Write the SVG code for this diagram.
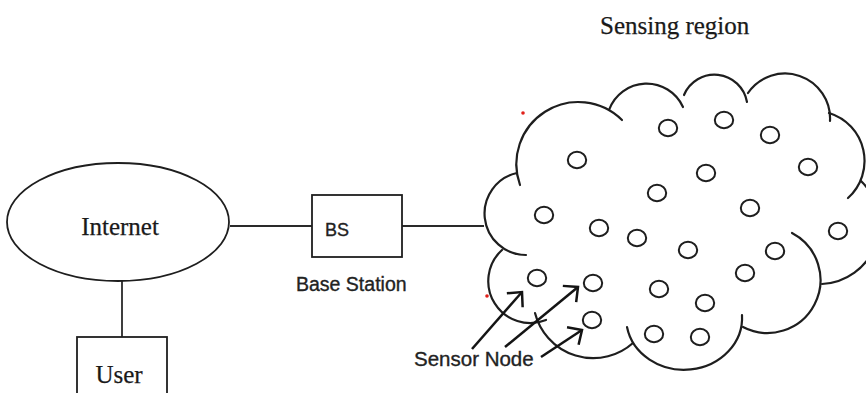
<svg xmlns="http://www.w3.org/2000/svg" width="866" height="393" viewBox="0 0 866 393">
  <defs>
    <style>
      .bg { fill: #ffffff; }
      .shape { fill: none; stroke: #1e1e1e; stroke-width: 1.8; }
      .cloud { fill: none; stroke: #1e1e1e; stroke-width: 2.2; stroke-linecap: round; }
      .sensor { fill: none; stroke: #1e1e1e; stroke-width: 2; }
      .link { fill: none; stroke: #2a2a2a; stroke-width: 1.8; }
      .arrow { fill: none; stroke: #141414; stroke-width: 2.5; marker-end: url(#chev); }
      .serif { font-family: "Liberation Serif", "Times New Roman", serif; fill: #1a1a1a; stroke: #1a1a1a; stroke-width: 0.25; }
      .sans { font-family: "Liberation Sans", Arial, sans-serif; fill: #222222; stroke: #222222; stroke-width: 0.35; }
      .dot { fill: #e0201a; }
    </style>
    <marker id="chev" markerUnits="userSpaceOnUse" markerWidth="30" markerHeight="30" viewBox="-16 -15 20 30" refX="0" refY="0" orient="auto">
      <path d="M -11 -10.5 L 0 0 L -11 10.5" fill="none" stroke="#141414" stroke-width="2.5" stroke-linejoin="miter"/>
    </marker>
  </defs>
  <rect class="bg" x="0" y="0" width="866" height="393"/>

  <text class="serif" x="600" y="34" font-size="25">Sensing region</text>

  <g id="connectors">
    <line class="link" x1="230" y1="226" x2="312" y2="226"/>
    <line class="link" x1="402" y1="226" x2="484" y2="226"/>
    <line class="link" x1="122" y1="281" x2="122" y2="337"/>
  </g>

  <g id="internet">
    <ellipse class="shape" cx="118" cy="222" rx="111" ry="59"/>
    <text class="serif" x="120" y="235" font-size="25" text-anchor="middle">Internet</text>
  </g>

  <g id="base-station">
    <rect class="shape" x="312" y="195" width="90" height="62"/>
    <text class="sans" x="325" y="236" font-size="18">BS</text>
    <text class="sans" x="296" y="291" font-size="19.5">Base Station</text>
  </g>

  <g id="user">
    <rect class="shape" x="77" y="337" width="90" height="70"/>
    <text class="serif" x="119" y="383" font-size="25" text-anchor="middle">User</text>
  </g>

  <g id="sensing-region">
    <path class="cloud" d="M 520 185 A 62 62 0 0 1 622 120"/>
    <path class="cloud" d="M 609 110 A 40 40 0 0 1 683 107"/>
    <path class="cloud" d="M 684 95 A 33 33 0 0 1 747 102"/>
    <path class="cloud" d="M 748 93 A 45 45 0 0 1 830 121"/>
    <path class="cloud" d="M 829 113 A 50 50 0 0 1 848 198"/>
    <path class="cloud" d="M 861 181 A 60 60 0 0 1 822 284"/>
    <path class="cloud" d="M 792 233 A 53 53 0 0 1 743 327"/>
    <path class="cloud" d="M 742 315 A 58 52 0 0 1 627 327"/>
    <path class="cloud" d="M 633 343 A 60 60 0 0 1 535 313"/>
    <path class="cloud" d="M 546 320 A 42 42 0 0 1 502 250"/>
    <path class="cloud" d="M 526 255 A 41.5 41.5 0 0 1 517 173"/>
  </g>

  <g id="sensor-nodes">
    <ellipse class="sensor" cx="577" cy="160" rx="9.2" ry="8.2"/>
    <ellipse class="sensor" cx="668" cy="128" rx="9.2" ry="8.2"/>
    <ellipse class="sensor" cx="724" cy="120" rx="9.2" ry="8.2"/>
    <ellipse class="sensor" cx="770" cy="135" rx="9.2" ry="8.2"/>
    <ellipse class="sensor" cx="706" cy="173" rx="9.2" ry="8.2"/>
    <ellipse class="sensor" cx="808" cy="167" rx="9.2" ry="8.2"/>
    <ellipse class="sensor" cx="657" cy="193" rx="9.2" ry="8.2"/>
    <ellipse class="sensor" cx="750" cy="208" rx="9.2" ry="8.2"/>
    <ellipse class="sensor" cx="544" cy="215" rx="9.2" ry="8.2"/>
    <ellipse class="sensor" cx="599" cy="228" rx="9.2" ry="8.2"/>
    <ellipse class="sensor" cx="637" cy="238" rx="9.2" ry="8.2"/>
    <ellipse class="sensor" cx="688" cy="250" rx="9.2" ry="8.2"/>
    <ellipse class="sensor" cx="838" cy="231" rx="9.2" ry="8.2"/>
    <ellipse class="sensor" cx="775" cy="251" rx="9.2" ry="8.2"/>
    <ellipse class="sensor" cx="745" cy="273" rx="9.2" ry="8.2"/>
    <ellipse class="sensor" cx="537" cy="278" rx="9.2" ry="8.2"/>
    <ellipse class="sensor" cx="593" cy="283" rx="9.2" ry="8.2"/>
    <ellipse class="sensor" cx="659" cy="289" rx="9.2" ry="8.2"/>
    <ellipse class="sensor" cx="705" cy="303" rx="9.2" ry="8.2"/>
    <ellipse class="sensor" cx="592" cy="320" rx="9.2" ry="8.2"/>
    <ellipse class="sensor" cx="654" cy="334" rx="9.2" ry="8.2"/>
    <ellipse class="sensor" cx="700" cy="337" rx="9.2" ry="8.2"/>
  </g>

  <g id="sensor-node-label">
    <text class="sans" x="414" y="366" font-size="20.5">Sensor Node</text>
    <line class="arrow" x1="472" y1="349" x2="522" y2="292"/>
    <line class="arrow" x1="505" y1="347" x2="578" y2="287"/>
    <line class="arrow" x1="541" y1="357" x2="582" y2="330"/>
  </g>

  <circle class="dot" cx="523" cy="113" r="1.8"/>
  <circle class="dot" cx="487" cy="296" r="1.8"/>
</svg>
